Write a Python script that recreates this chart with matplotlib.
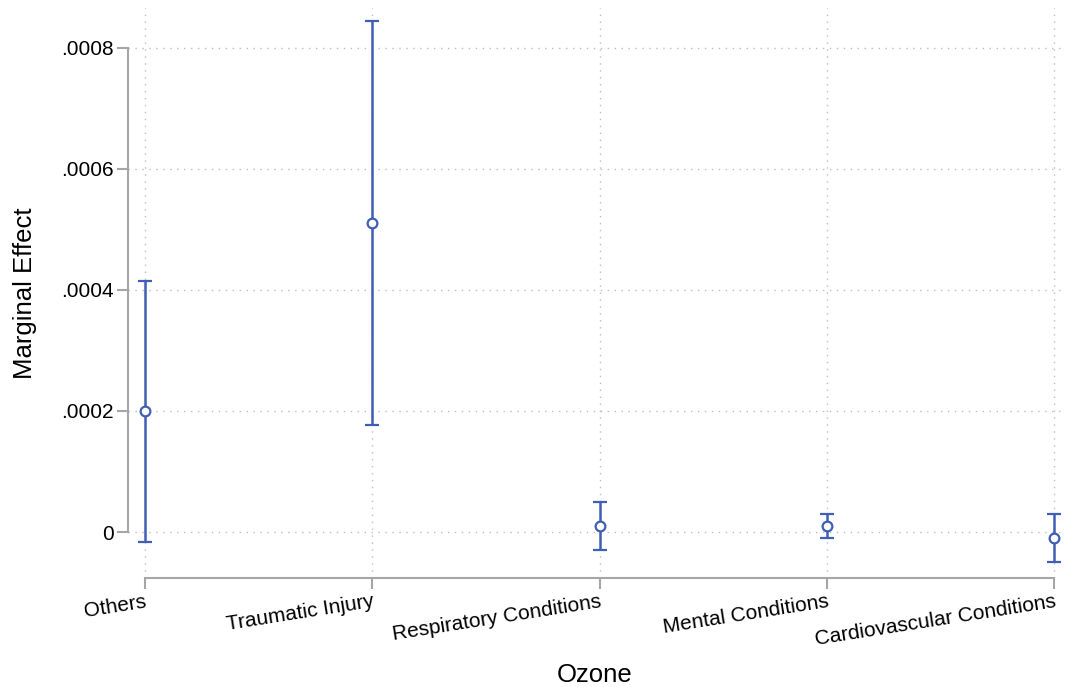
import matplotlib
matplotlib.use("Agg")
import matplotlib.pyplot as plt

categories = ["Others", "Traumatic Injury", "Respiratory Conditions",
              "Mental Conditions", "Cardiovascular Conditions"]
estimates = [0.000200, 0.000511, 0.000010, 0.000010, -0.000010]
ci_low = [-0.0000165, 0.000177, -0.0000298, -0.000010, -0.000050]
ci_high = [0.000415, 0.000845, 0.0000496, 0.000030, 0.000030]
yticks = [0, 0.0002, 0.0004, 0.0006, 0.0008]
ytick_labels = ["0", ".0002", ".0004", ".0006", ".0008"]

plt.rcParams['font.family'] = ['Liberation Sans', 'DejaVu Sans']

W, H = 1065, 687
fig = plt.figure(figsize=(W / 100, H / 100), dpi=100)
ax = fig.add_axes([128 / W, (H - 578) / H, (1062 - 128) / W, (578 - 8) / H])

blue = '#3F5EB4'
gray = '#A6A6A6'
x = list(range(1, len(categories) + 1))
yerr = [[e - l for e, l in zip(estimates, ci_low)],
        [h - e for e, h in zip(estimates, ci_high)]]
ax.errorbar(x, estimates, yerr=yerr, fmt='o', color=blue, ecolor=blue,
            mfc='white', mec=blue, ms=7, mew=1.6, elinewidth=1.8,
            capsize=5, capthick=1.8, zorder=3)

ax.set_xlim(0.925, 5.035)
ax.set_ylim(-0.000076, 0.000866)
ax.set_yticks(yticks)
ax.set_yticklabels(ytick_labels, fontsize=15)
ax.set_xticks(x)
ax.set_xticklabels(categories, fontsize=15, rotation=9, ha='right',
                   rotation_mode='anchor')

for s in ['top', 'right']:
    ax.spines[s].set_visible(False)
ax.spines['left'].set_bounds(0, 0.0008)
ax.spines['bottom'].set_bounds(1, 5)
for s in ['left', 'bottom']:
    ax.spines[s].set_color(gray)
    ax.spines[s].set_linewidth(1.5)
ax.tick_params(axis='both', color=gray, width=1.5, length=8, labelcolor='black')
ax.tick_params(axis='y', pad=2.5)
ax.tick_params(axis='x', pad=2)

ax.grid(True, linestyle=(0, (1, 4)), color='#BDBDBD', linewidth=1)
ax.set_axisbelow(True)

ax.set_ylabel("Marginal Effect", fontsize=18.5, labelpad=17)
ax.set_xlabel("Ozone", fontsize=18.5, labelpad=10)

fig.savefig("out.png", dpi=100)
